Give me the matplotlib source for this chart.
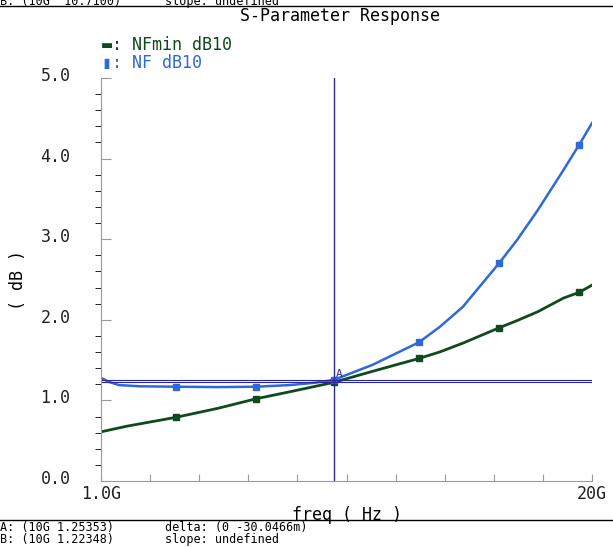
import matplotlib
matplotlib.use("Agg")
import matplotlib.pyplot as plt
import matplotlib.transforms as mtransforms
import numpy as np

# values (freq in GHz, noise figure in dB)
nfmin_freq = [1.0, 2.0, 3.9, 5.5, 7.0, 8.5, 10.0, 11.5, 13.3, 14.1, 15.0, 16.4, 17.1, 17.9, 18.9, 19.5, 20.0]
nfmin_db = [0.61, 0.68, 0.79, 0.90, 1.02, 1.12, 1.2235, 1.36, 1.52, 1.60, 1.71, 1.90, 1.99, 2.10, 2.27, 2.34, 2.43]
nf_freq = [1.0, 1.3, 1.7, 2.5, 3.9, 5.5, 7.0, 8.3, 9.3, 10.0, 11.5, 13.3, 14.1, 15.0, 16.4, 17.1, 17.9, 18.9, 19.5, 20.0]
nf_db = [1.28, 1.23, 1.19, 1.175, 1.17, 1.165, 1.17, 1.19, 1.22, 1.2535, 1.44, 1.72, 1.91, 2.16, 2.70, 2.99, 3.36, 3.86, 4.17, 4.44]
marker_freq = [3.9, 7.0, 10.0, 13.3, 16.4, 19.5]
marker_a = 1.25353
marker_b = 1.22348
marker_x = 10.0

green = "#0f4a1c"
blue = "#2f68d8"
navy = "#28289a"
gray = "#9a9a9a"

plt.rcParams['font.family'] = ['DejaVu Sans Mono', 'DejaVu Sans']

fig = plt.figure(figsize=(6.13, 5.47), dpi=100)
ax = fig.add_axes([101 / 613, 1 - 481 / 547, 491 / 613, 403 / 547])

ax.plot(nfmin_freq, nfmin_db, color=green, lw=2.0)
ax.plot(nf_freq, nf_db, color=blue, lw=1.8)
ax.plot(marker_freq, np.interp(marker_freq, nfmin_freq, nfmin_db), ls="none",
        marker="s", ms=4, color=green)
ax.plot(marker_freq, np.interp(marker_freq, nf_freq, nf_db), ls="none",
        marker="s", ms=4, color=blue)

ax.axhline(marker_a, color=navy, lw=0.8)
ax.axhline(marker_b, color=navy, lw=0.8)
ax.axvline(marker_x, color=navy, lw=1.0)
ax.text(marker_x + 0.2, 1.27, "A", color=navy, fontsize=8, ha="center", va="bottom")

ax.set_xlim(1.0, 20.0)
ax.set_ylim(0.0, 5.0)
ax.set_xticks(np.linspace(1.0, 20.0, 11))
ax.set_xticklabels(["1.0G"] + [""] * 9 + ["20G"])
ax.set_yticks([0, 1, 2, 3, 4, 5])
ax.set_yticklabels(["0.0", "1.0", "2.0", "3.0", "4.0", "5.0"])
ax.set_yticks(np.arange(0, 5.01, 0.2), minor=True)
ax.tick_params(axis="both", direction="in", colors=gray, labelcolor="#222222",
               labelsize=12)
ax.tick_params(axis="y", which="major", length=7, pad=22)
ax.tick_params(axis="y", which="minor", length=4)
ax.tick_params(axis="x", length=5, pad=3)
# y labels sit a little above their ticks in the reference
shift_up = mtransforms.ScaledTranslation(0, 4 / 100, fig.dpi_scale_trans)
for lbl in ax.get_yticklabels():
    lbl.set_transform(lbl.get_transform() + shift_up)
for side in ["top", "right"]:
    ax.spines[side].set_visible(False)
for side in ["left", "bottom"]:
    ax.spines[side].set_color(gray)

ax.set_xlabel("freq ( Hz )", fontsize=12, labelpad=2)
ax.set_ylabel("( dB )", fontsize=12, va="center")
ax.yaxis.set_label_coords(-83 / 491, 0.5)

fig.text(340 / 613, 1 - 16 / 547, "S-Parameter Response", ha="center", va="center",
         fontsize=12)
fig.text(102 / 613, 1 - 45 / 547, "\u25ac: NFmin dB10", color=green, fontsize=12,
         va="center")
fig.text(102 / 613, 1 - 63 / 547, "\u25ae: NF dB10", color=blue, fontsize=12,
         va="center")

# marker readout strips
fig.add_artist(plt.Line2D([0, 1], [1 - 6 / 547] * 2, color="black", lw=1))
fig.text(0.0, 1 - 1 / 547, "B: (10G  10.7100)", fontsize=8.5, va="center")
fig.text(165 / 613, 1 - 1 / 547, "slope: undefined", fontsize=8.5, va="center")
fig.add_artist(plt.Line2D([0, 1], [1 - 520 / 547] * 2, color="black", lw=1))
fig.text(0.0, 1 - 528 / 547, "A: (10G 1.25353)", fontsize=8.5, va="center")
fig.text(0.0, 1 - 540 / 547, "B: (10G 1.22348)", fontsize=8.5, va="center")
fig.text(165 / 613, 1 - 528 / 547, "delta: (0 -30.0466m)", fontsize=8.5, va="center")
fig.text(165 / 613, 1 - 540 / 547, "slope: undefined", fontsize=8.5, va="center")

fig.savefig("out.png", dpi=100)
